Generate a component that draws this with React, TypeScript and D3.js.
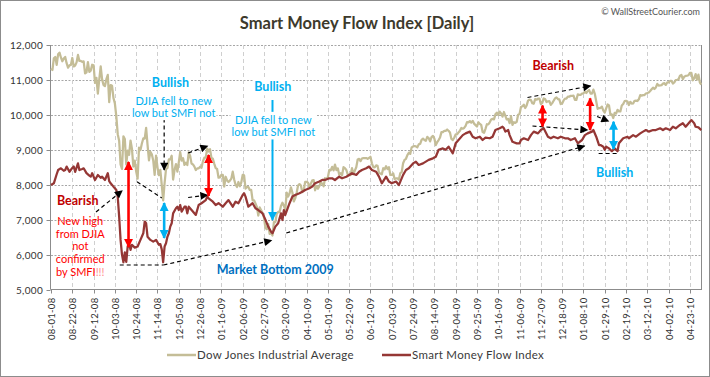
import React, { useEffect, useRef } from "react";
import * as d3 from "d3";

// ---------- DATA ----------
const X_LABELS = [
  "08-01-08","08-22-08","09-12-08","10-03-08","10-24-08","11-14-08","12-05-08","12-26-08",
  "01-16-09","02-06-09","02-27-09","03-20-09","04-10-09","05-01-09","05-22-09","06-12-09",
  "07-03-09","07-24-09","08-14-09","09-04-09","09-25-09","10-16-09","11-06-09","11-27-09",
  "12-18-09","01-08-10","01-29-10","02-19-10","03-12-10","04-02-10","04-23-10"
];
const LABEL_STEP = 15; // weekdays between labels
const Y_TICKS = [5000, 6000, 7000, 8000, 9000, 10000, 11000, 12000];
const SERIES_NAMES = ["Dow Jones Industrial Average", "Smart Money Flow Index"];

// DJIA daily close, one value per weekday starting 08-01-08
const DJIA = [
  11326,11284,11616,11656,11432,11734,11782,11643,11533,11615,11659,11479,11348,11417,11430,11628,
  11386,11413,11502,11715,11543,11543,11516,11532,11188,11220,11510,11231,11268,11434,11421,10917,
  11059,10609,11019,11388,11016,10854,10825,11022,11143,10365,10851,10831,10482,10325,9955,9447,
  9258,8579,8451,9387,9310,8577,8979,8852,9265,9033,8519,8691,8378,8175,9065,8990,
  9180,9325,9319,9625,9139,8695,8943,8870,8693,8283,8835,8497,8273,8424,7997,7552,
  8046,8443,8479,8727,8727,8829,8149,8419,8591,8376,8635,8934,8691,8761,8565,8629,
  8564,8924,8824,8604,8579,8519,8419,8468,8468,8515,8483,8668,8776,8776,9034,8952,
  9015,8769,8742,8599,8474,8448,8200,8212,8281,8281,7949,8228,8123,8077,8116,8175,
  8375,8149,8000,7936,8078,7956,8063,8280,8270,7888,7939,7933,7850,7850,7553,7555,
  7466,7366,7115,7351,7270,7182,7063,6763,6726,6876,6594,6627,6547,6926,6930,7170,
  7224,7216,7395,7486,7400,7278,7776,7660,7749,7924,7776,7522,7609,7761,7978,8017,
  7975,7789,7837,8083,8083,8058,7920,8029,8125,8131,7841,7969,7886,7957,8076,8025,
  7957,8185,8168,8212,8426,8410,8512,8409,8575,8419,8469,8284,8331,8268,8504,8475,
  8422,8292,8277,8277,8473,8300,8403,8500,8721,8740,8675,8750,8764,8764,8763,8739,
  8770,8799,8612,8504,8497,8555,8539,8340,8322,8299,8472,8438,8529,8447,8504,8280,
  8280,8324,8163,8179,8183,8146,8332,8359,8616,8711,8743,8848,8916,8882,9069,9093,
  9108,9097,9070,9155,9172,9286,9320,9280,9257,9370,9337,9241,9362,9398,9321,9136,
  9218,9279,9350,9506,9509,9540,9543,9580,9545,9496,9310,9280,9344,9441,9441,9497,
  9547,9627,9605,9626,9683,9791,9783,9820,9778,9829,9748,9707,9665,9789,9742,9712,
  9509,9487,9599,9731,9726,9786,9865,9885,9871,10015,10062,9996,10092,10042,9949,10081,
  9972,9868,9882,9762,9962,9712,9789,9771,9802,10005,10023,10226,10247,10291,10197,10270,
  10406,10437,10426,10332,10318,10450,10433,10464,10464,10310,10345,10471,10453,10369,10389,10390,
  10286,10337,10405,10471,10501,10452,10441,10309,10328,10414,10464,10466,10520,10520,10547,10545,
  10548,10428,10428,10584,10573,10573,10607,10618,10663,10627,10680,10710,10610,10610,10725,10604,
  10389,10172,10196,10194,10236,10120,10067,10185,10296,10270,10002,10013,9908,10058,10038,10144,
  10099,10099,10268,10309,10392,10403,10383,10282,10374,10321,10325,10403,10405,10396,10444,10567,
  10552,10564,10567,10611,10625,10642,10685,10733,10779,10742,10785,10888,10836,10841,10850,10895,
  10907,10857,10927,10927,10973,10970,10898,10928,10997,11005,11019,11123,11144,11019,11092,11117,
  11124,11134,11204,11205,10991,11045,11167,11009,11151,10926,10868
];

// SMFI readings: weekday index and value
const SMFI_DAY = [
  0,2,4,5,7,9,10,11,13,15,16,17,19,20,22,23,25,27,28,29,31,33,35,36,38,40,41,42,44,45,46,47,
  48,49,50,51,52,53,54,55,56,57,59,61,63,65,66,67,68,70,72,74,76,77,78,79,80,81,82,83,84,85,
  86,88,89,90,91,92,94,95,96,97,99,102,104,106,109,110,111,114,116,118,121,123,125,128,130,132,135,136,
  137,139,142,144,146,149,151,153,155,156,158,160,162,163,164,165,168,170,172,175,177,179,182,184,
  186,189,191,193,196,198,200,203,205,208,210,212,215,217,219,222,224,226,229,231,233,236,238,240,
  243,245,248,250,252,255,257,259,262,264,266,269,271,273,276,278,280,283,285,287,290,292,295,297,
  299,302,304,306,309,311,313,316,318,319,320,322,323,325,328,330,331,333,336,338,340,343,345,347,
  350,352,354,357,359,362,364,366,369,371,374,376,378,381,382,384,386,387,389,390,391,393,395,397,
  399,400,403,406,407,410,412,415,417,419,421,424,426,429,431,433,436,438,440,443,445,447,450,451,
  453,454,456,458
];
const SMFI = [
  7990,8040,8300,8420,8470,8400,8420,8520,8370,8480,8520,8370,8610,8420,8450,8470,8330,8260,8230,8330,8135,8280,8200,8230,8135,8330,8100,8040,7945,7900,7850,7660,
  7085,6420,6000,5780,6060,5790,6230,6325,6135,6280,6200,6230,6420,6610,6945,6895,6510,6420,6370,6420,6280,6300,6150,5780,6230,6325,6510,6610,6800,6895,
  7180,7325,7370,7275,7420,7230,7370,7370,7180,7370,7275,7135,7420,7470,7560,7660,7610,7515,7420,7470,7370,7470,7560,7370,7515,7470,7705,7755,
  7660,7370,7470,7325,7275,7180,7000,6800,6655,6610,6800,6895,7180,6990,7275,7135,7470,7660,7705,7755,7800,7850,7900,7945,
  8040,8090,8135,8135,8185,8185,8135,8230,8185,8230,8280,8330,8280,8370,8420,8470,8520,8420,8370,8230,8040,8230,8090,8040,
  8090,7990,8280,8420,8470,8610,8660,8565,8610,8660,8710,8755,8800,9000,9040,9000,9090,8900,9185,9280,9420,9470,9520,9375,
  9330,9375,9280,9350,9330,9375,9565,9615,9660,9615,9520,9565,9420,9230,9185,9185,9280,9330,9280,9420,9520,9470,9565,9615,
  9375,9330,9375,9330,9375,9330,9330,9280,9330,9185,9280,9420,9470,9520,9565,9375,9135,9135,9090,9000,9090,9040,8960,9040,
  8960,9185,9330,9375,9330,9420,9375,9470,9520,9565,9520,9565,9565,9615,9565,9615,9565,9660,9615,9710,9760,9660,9805,9850,
  9760,9660,9640,9565
];

// Annotations in data space: [weekday index, value]
const ANN_TEXTS = [
  { lines: ["Bearish"], at: [18.8, 7534], color: "#c00000", size: 12.5, bold: true },
  { lines: ["New high", "from DJIA", "not", "confirmed", "by SMFI"], at: [20.6, 6961], color: "#ff0000", size: 11, bold: false, lead: 12.7 },
  { lines: ["Bullish"], at: [84.1, 10930], color: "#00b0f0", size: 12.5, bold: true, bg: true },
  { lines: ["DJIA fell to new", "low but SMFI not"], at: [86.4, 10405], color: "#00b0f0", size: 11, bold: false, lead: 12.6, bg: true },
  { lines: ["Bullish"], at: [156.2, 10800], color: "#00b0f0", size: 12.5, bold: true, bg: true },
  { lines: ["DJIA fell to new", "low but SMFI not"], at: [156.6, 9853], color: "#00b0f0", size: 11, bold: false, lead: 12.6, bg: true },
  { lines: ["Market Bottom 2009"], at: [157.9, 5558], color: "#0070c0", size: 12.5, bold: true },
  { lines: ["Bearish"], at: [353.7, 11407], color: "#c00000", size: 12.5, bold: true },
  { lines: ["Bullish"], at: [397.0, 8344], color: "#00b0f0", size: 12.5, bold: true },
];
// dashed black arrows: from -> to
const DASH_ARROWS = [
  [[31.7, 7219], [50.1, 7830]],
  [[79.2, 5701], [155.3, 6403]],
  [[79.7, 10500], [79.7, 8421]],
  [[96.6, 8908], [110.3, 9110]],
  [[96.6, 7634], [110.3, 7706]],
  [[165.7, 6618], [375.8, 9109]],
  [[335.6, 10497], [380.0, 10826]],
  [[339.1, 9681], [377.9, 9567]],
  [[384.6, 9953], [392.7, 9816]],
];
// dashed black plain lines
const DASH_LINES = [
  [[60.6, 8086], [78.0, 7620]],
  [[48.4, 5701], [79.2, 5701]],
  [[385.7, 8894], [399.1, 8894]],
];
// double-headed arrows (x index, value top, value bottom)
const RED_ARROWS = [
  [54.6, 8650, 6217],
  [111.0, 8851, 7677],
  [346.2, 10268, 9667],
  [379.7, 10474, 9567],
];
const BLUE_ARROWS = [
  [79.7, 7477, 6474],
  [396.2, 9804, 9022],
];
const BLUE_POINTER = [[156.0, 10425], [156.0, 6990]];

const W = 710, H = 377;
const PLOT = { left: 51, right: 702, top: 45, bottom: 289.5 };

export default function App() {
  const ref = useRef<SVGSVGElement>(null);
  useEffect(() => {
    const svg = d3.select(ref.current);
    svg.selectAll("*").remove();
    const font = "Lato, 'Open Sans', sans-serif";

    const x = d3.scaleLinear().domain([0, 458.5]).range([PLOT.left, PLOT.right]);
    const y = d3.scaleLinear().domain([5000, 12000]).range([PLOT.bottom, PLOT.top]);

    const defs = svg.append("defs");
    const mk = (id: string, color: string, w: number, h: number) => {
      defs.append("marker").attr("id", id).attr("viewBox", "0 0 10 10")
        .attr("refX", 9).attr("refY", 5).attr("markerUnits", "userSpaceOnUse")
        .attr("markerWidth", w).attr("markerHeight", h).attr("orient", "auto-start-reverse")
        .append("path").attr("d", "M0,0 L10,5 L0,10 z").attr("fill", color);
    };
    mk("ab", "#000", 9, 8);
    mk("ar", "#ff0000", 9, 10);
    mk("au", "#00b0f0", 9, 10);

    svg.append("rect").attr("x", 0.5).attr("y", 0.5).attr("width", W - 1).attr("height", H - 1)
      .attr("fill", "#fff").attr("stroke", "#8c8c8c");

    // title & credit
    svg.append("text").attr("x", 357).attr("y", 29).attr("text-anchor", "middle")
      .attr("font-family", font).attr("font-size", 16.5).attr("font-weight", "bold")
      .attr("fill", "#3d3a2c").text("Smart Money Flow Index [Daily]");
    svg.append("text").attr("x", 700).attr("y", 15).attr("text-anchor", "end")
      .attr("font-family", font).attr("font-size", 9).attr("fill", "#555")
      .text("\u00A9  WallStreetCourier.com");

    // gridlines
    const g = svg.append("g");
    Y_TICKS.filter(v => v > 5000).forEach(v => {
      const yy = Math.round(y(v)) + 0.5;
      g.append("line").attr("x1", PLOT.left).attr("x2", PLOT.right).attr("y1", yy).attr("y2", yy)
        .attr("stroke", "#a6a6a6").attr("stroke-dasharray", "2,1.5");
    });
    X_LABELS.forEach((_, i) => {
      if (i === 0) return;
      const xx = Math.round(x(i * LABEL_STEP)) + 0.5;
      g.append("line").attr("x1", xx).attr("x2", xx).attr("y1", PLOT.top).attr("y2", PLOT.bottom)
        .attr("stroke", "#cfcfcf").attr("stroke-dasharray", "4,3");
    });
    // axes
    const ax = "#8c8c8c";
    g.append("line").attr("x1", 50.5).attr("x2", 50.5).attr("y1", PLOT.top).attr("y2", PLOT.bottom).attr("stroke", ax);
    g.append("line").attr("x1", 701.5).attr("x2", 701.5).attr("y1", PLOT.top).attr("y2", PLOT.bottom).attr("stroke", ax);
    g.append("line").attr("x1", 50.5).attr("x2", 702).attr("y1", PLOT.bottom).attr("y2", PLOT.bottom).attr("stroke", ax);
    Y_TICKS.forEach(v => {
      const yy = Math.round(y(v)) + 0.5;
      g.append("line").attr("x1", 46.5).attr("x2", 50.5).attr("y1", yy).attr("y2", yy).attr("stroke", ax);
      g.append("text").attr("x", 43).attr("y", yy).attr("dy", "0.35em").attr("text-anchor", "end")
        .attr("font-family", font).attr("font-size", 10).attr("letter-spacing", 0.3).attr("fill", "#333")
        .text(d3.format(",")(v));
    });
    X_LABELS.forEach((lab, i) => {
      const xx = Math.round(x(i * LABEL_STEP)) + 0.5;
      g.append("line").attr("x1", xx).attr("x2", xx).attr("y1", PLOT.bottom).attr("y2", PLOT.bottom + 4).attr("stroke", ax);
      g.append("text").attr("transform", `translate(${xx},${PLOT.bottom + 8}) rotate(-90)`)
        .attr("dy", "0.35em").attr("text-anchor", "end").attr("letter-spacing", 0.3)
        .attr("font-family", font).attr("font-size", 9.5).attr("fill", "#333").text(lab);
    });

    // series
    const lineD = d3.line<[number, number]>().x(d => x(d[0])).y(d => y(d[1]));
    svg.append("path").attr("d", lineD(DJIA.map((v, i) => [i, v] as [number, number])))
      .attr("fill", "none").attr("stroke", "#c4bd97").attr("stroke-width", 2.25).attr("stroke-linejoin", "round");
    svg.append("path").attr("d", lineD(SMFI.map((v, i) => [SMFI_DAY[i], v] as [number, number])))
      .attr("fill", "none").attr("stroke", "#953735").attr("stroke-width", 2.25).attr("stroke-linejoin", "round");

    // annotations
    const an = svg.append("g");
    DASH_LINES.forEach(([a, b]) => {
      an.append("line").attr("x1", x(a[0])).attr("y1", y(a[1])).attr("x2", x(b[0])).attr("y2", y(b[1]))
        .attr("stroke", "#000").attr("stroke-width", 1.2).attr("stroke-dasharray", "4,3");
    });
    DASH_ARROWS.forEach(([a, b]) => {
      an.append("line").attr("x1", x(a[0])).attr("y1", y(a[1])).attr("x2", x(b[0])).attr("y2", y(b[1]))
        .attr("stroke", "#000").attr("stroke-width", 1.2).attr("stroke-dasharray", "4,3")
        .attr("marker-end", "url(#ab)");
    });
    an.append("line").attr("x1", x(BLUE_POINTER[0][0])).attr("y1", y(BLUE_POINTER[0][1]))
      .attr("x2", x(BLUE_POINTER[1][0])).attr("y2", y(BLUE_POINTER[1][1]))
      .attr("stroke", "#00b0f0").attr("stroke-width", 2).attr("marker-end", "url(#au)");
    RED_ARROWS.forEach(([i, a, b]) => {
      an.append("line").attr("x1", x(i)).attr("x2", x(i)).attr("y1", y(a)).attr("y2", y(b))
        .attr("stroke", "#ff0000").attr("stroke-width", 2.6)
        .attr("marker-start", "url(#ar)").attr("marker-end", "url(#ar)");
    });
    BLUE_ARROWS.forEach(([i, a, b]) => {
      an.append("line").attr("x1", x(i)).attr("x2", x(i)).attr("y1", y(a)).attr("y2", y(b))
        .attr("stroke", "#00b0f0").attr("stroke-width", 2.6)
        .attr("marker-start", "url(#au)").attr("marker-end", "url(#au)");
    });

    ANN_TEXTS.forEach(t => {
      const grp = an.append("g");
      const lead = (t as any).lead || 14;
      const tx = grp.append("text").attr("font-family", font).attr("font-size", t.size)
        .attr("font-weight", t.bold ? "bold" : "normal").attr("fill", t.color).attr("text-anchor", "middle");
      t.lines.forEach((ln, k) => {
        const ts = tx.append("tspan").attr("x", x(t.at[0])).attr("y", y(t.at[1]) + k * lead).attr("dy", "0.35em").text(ln);
        if (ln === "by SMFI") ts.append("tspan").attr("fill", "#ff8f8f").text("!!!");
      });
      if ((t as any).bg) {
        const bb = (tx.node() as SVGTextElement).getBBox();
        grp.insert("rect", "text").attr("x", bb.x - 1).attr("y", bb.y - 1)
          .attr("width", bb.width + 2).attr("height", bb.height + 2).attr("fill", "#fff");
      }
    });

    // legend
    const lg = svg.append("g").attr("font-family", font).attr("font-size", 11.5)
      .attr("letter-spacing", 0.3).attr("fill", "#3a3a3a");
    const colors = ["#c4bd97", "#953735"];
    const lx = [167, 382];
    SERIES_NAMES.forEach((nm, i) => {
      lg.append("line").attr("x1", lx[i]).attr("x2", lx[i] + 29).attr("y1", 355).attr("y2", 355)
        .attr("stroke", colors[i]).attr("stroke-width", 2.5);
      lg.append("text").attr("x", lx[i] + 30).attr("y", 355).attr("dy", "0.35em").text(nm);
    });
  }, []);
  return <svg ref={ref} width={W} height={H} style={{ position: "absolute", left: 0, top: 0 }} />;
}
